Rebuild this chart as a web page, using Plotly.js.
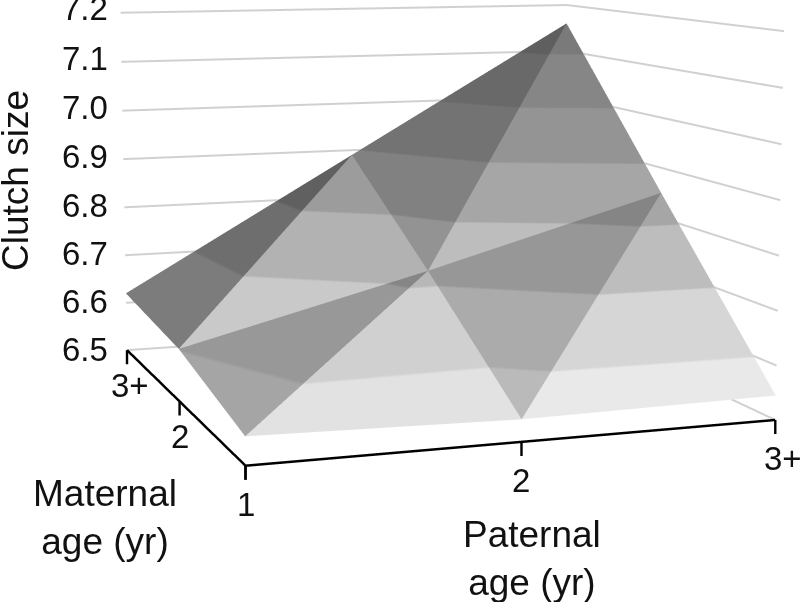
<!DOCTYPE html>
<html style="overflow:hidden;width:800px;height:602px"><head><meta charset="utf-8">
<script src="https://cdn.plot.ly/plotly-3.0.1.min.js"></script>
<style>html,body{margin:0;padding:0;background:#fff;overflow:hidden}body{width:800px;height:602px;position:relative}#chart{position:absolute;left:0;top:-705px;width:856px;height:1818px}</style>
</head><body><div id="chart"></div>
<script>
const paternalAge = [1, 1, 1, 2, 2, 2, 3, 3, 3];
const maternalAge = [1, 2, 3, 1, 2, 3, 1, 2, 3];
const clutchSize = [6.55, 6.60, 6.62, 6.54, 6.72, 6.89, 6.545, 6.85, 7.16];
const triI = [0, 0, 1, 1, 3, 3, 4, 4];
const triJ = [3, 4, 4, 5, 6, 7, 7, 8];
const triK = [4, 1, 5, 2, 7, 4, 8, 5];
const facetShade = [0.97, 0.71, 0.94, 0.58, 1.0, 0.80, 1.0, 0.78];
const ageTicks = [1, 2, 3];
const ageLabels = ['1', '2', '3+'];
const zTicks = [6.5, 6.6, 6.7, 6.8, 6.9, 7.0, 7.1, 7.2];
const zLabels = ['6.5', '6.6', '6.7', '6.8', '6.9', '7.0', '7.1', '7.2'];
const bandGreys = ['#e9e9e9','#d6d6d6','#bdbdbd','#a6a6a6','#949494','#868686','#7a7a7a'];

const W = 856, H = 1818, TOP = -705;
const px = x => x / W, py = y => 1 - (y - TOP) / H;
const family = 'Liberation Sans, Arial, sans-serif';
const tickFont = {family, size: 33, color: '#111'};
const titleFont = {family, size: 37, color: '#111'};

const bandScale = [];
bandGreys.forEach((c, n) => {
  bandScale.push([n / bandGreys.length, c]);
  bandScale.push([(n + 1) / bandGreys.length, c]);
});

const gridX = [], gridY = [], gridZ = [];
zTicks.forEach(z => {
  gridX.push(1, 3, 3, null); gridY.push(3, 3, 1, null); gridZ.push(z, z, z, null);
});
const floor = zTicks[0];

const axis = range => ({
  range, autorange: false, title: {text: ''}, showgrid: false, zeroline: false, showbackground: false,
  showspikes: false, showticklabels: false, ticks: '', showline: false, showaxeslabels: false
});

const tick = (x, y) => ({x, y, z: floor, text: ' ', showarrow: true, arrowhead: 0, arrowwidth: 2.4,
  arrowcolor: '#000', ax: 0, ay: 16, standoff: 0, startstandoff: 0, font: {size: 1}});
const label = (x, y, z, text, xshift, yshift, extra) => Object.assign({x, y, z, text, showarrow: false,
  xshift, yshift, font: tickFont}, extra || {});

const sceneAnn = [];
ageTicks.forEach((v, n) => {
  sceneAnn.push(tick(v, 1), tick(1, v));
  sceneAnn.push(label(v, 1, floor, ageLabels[n], n === 2 ? 8 : 0, -39));
  if (n > 0) sceneAnn.push(label(1, v, floor, ageLabels[n], n === 2 ? 3 : 0, -35));
});
zTicks.forEach((z, n) => sceneAnn.push(label(1, 3, z, zLabels[n], -17 + n, 1 + n * 0.4, {xanchor: 'right'})));

const facets = triI.map((a, n) => {
  const v = [a, triJ[n], triK[n]];
  return {type: 'mesh3d', x: v.map(q => paternalAge[q]), y: v.map(q => maternalAge[q]), z: v.map(q => clutchSize[q]),
    i: [0], j: [1], k: [2], intensity: v.map(q => clutchSize[q]), intensitymode: 'vertex',
    colorscale: bandScale, cmin: 6.5, cmax: 7.2, showscale: false, hoverinfo: 'skip',
    lighting: {ambient: facetShade[n], diffuse: 0, specular: 0, roughness: 1, fresnel: 0}};
});

Plotly.newPlot('chart', [
  {type: 'scatter3d', mode: 'lines', x: gridX, y: gridY, z: gridZ, connectgaps: false,
   line: {color: '#d0d0d0', width: 4}, hoverinfo: 'skip'},
  {type: 'scatter3d', mode: 'lines', x: [3, 1, 1], y: [1, 1, 3], z: [floor, floor, floor],
   line: {color: '#000', width: 5}, hoverinfo: 'skip'}
].concat(facets), {
  width: W, height: H, margin: {l: 0, r: 0, t: 0, b: 0}, paper_bgcolor: '#fff', showlegend: false,
  scene: {
    domain: {x: [0, 1], y: [0, 1]},
    aspectmode: 'manual', aspectratio: {x: 1.1, y: 1.10825, z: 0.81429},
    camera: {eye: {x: -1.3874, y: -4.012, z: 0.5953}, center: {x: 0, y: 0, z: 0}, up: {x: 0, y: 0, z: 1}, projection: {type: 'perspective'}},
    xaxis: axis([0.9, 3.1]), yaxis: axis([0.9, 3.1]), zaxis: axis([6.45, 7.25]),
    annotations: sceneAnn
  },
  annotations: [
    {xref: 'paper', yref: 'paper', x: px(16), y: py(181), xanchor: 'center', yanchor: 'middle', text: 'Clutch size', textangle: -90, showarrow: false, font: titleFont},
    {xref: 'paper', yref: 'paper', x: px(105), y: py(517), xanchor: 'center', yanchor: 'middle', text: 'Maternal<br>age (yr)', showarrow: false, font: titleFont},
    {xref: 'paper', yref: 'paper', x: px(532), y: py(558), xanchor: 'center', yanchor: 'middle', text: 'Paternal<br>age (yr)', showarrow: false, font: titleFont}
  ]
}, {displayModeBar: false, responsive: false});
</script></body></html>
